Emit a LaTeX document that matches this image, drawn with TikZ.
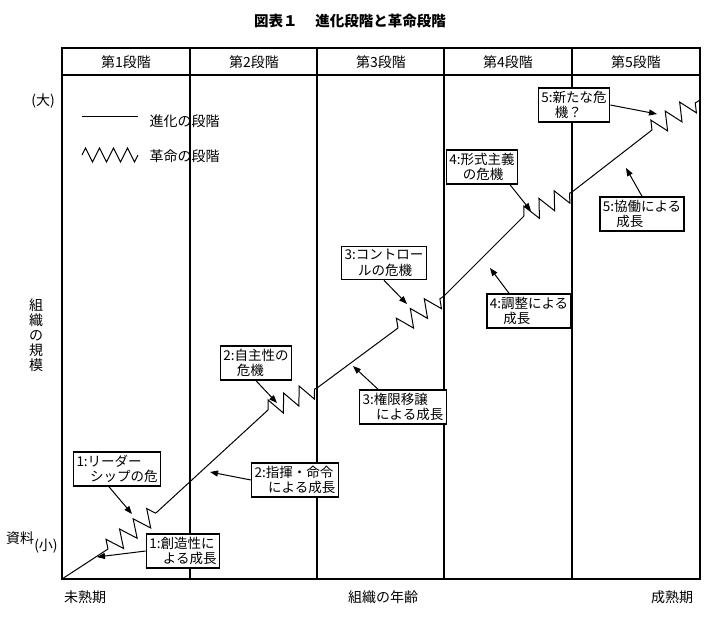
\documentclass[tikz,border=0pt]{standalone}
\usepackage{fontspec}
\setmainfont{Noto Sans CJK JP}
\usetikzlibrary{decorations.pathmorphing,arrows.meta}
\begin{document}
\begin{tikzpicture}[x=1pt,y=-1pt,
  frame/.style={line width=1.6pt},
  evo/.style={line width=1pt},
  zz/.style={line width=1pt,decorate,decoration={zigzag,segment length=17,amplitude=9}},
  box/.style={draw,line width=1.5pt,fill=white,align=left,font=\fontsize{13.5}{15.5}\selectfont,inner sep=3pt},
  arr/.style={line width=1pt,-{Triangle[length=8pt,width=6pt]}},
  lab/.style={font=\fontsize{14}{16}\selectfont}]
\useasboundingbox (0,0) rectangle (718,619);
\node[font=\bfseries\fontsize{14.5}{16}\selectfont] (title) at (350,21) {図表１　 進化段階と革命段階};
% frame
\draw[frame] (62,48) rectangle (700,579);
\draw[frame] (62,75) -- (700,75);
\foreach \x in {190,317,444,572} \draw[frame] (\x,48) -- (\x,579);
\foreach \i/\x in {1/126,2/254,3/381,4/508,5/636} \node[lab] (h\i) at (\x,62) {第\i 段階};
% legend
\coordinate (l1a) at (82,116); \coordinate (l1b) at (138,116);
\draw[evo] (l1a) -- (l1b);
\node[lab,anchor=west] (lt1) at (146,121) {進化の段階};
\coordinate (l2a) at (82,155); \coordinate (l2b) at (138,155);
\draw[zz,decoration={amplitude=7,segment length=14}] (l2a) -- (l2b);
\node[lab,anchor=west] (lt2) at (146,156) {革命の段階};
% growth path
\coordinate (o) at (62,579);
\coordinate (z1s) at (108,549); \coordinate (z1e) at (157,512);
\coordinate (z2s) at (268,410); \coordinate (z2e) at (317,388);
\coordinate (z3s) at (398,328); \coordinate (z3e) at (444,296);
\coordinate (z4s) at (524,216); \coordinate (z4e) at (572,192);
\coordinate (z5s) at (652,130); \coordinate (z5e) at (700,100);
\draw[evo] (o) -- (z1s) (z1e) -- (z2s) (z2e) -- (z3s) (z3e) -- (z4s) (z4e) -- (z5s);
\foreach \i in {1,...,5} \draw[zz] (z\i s) -- (z\i e);
% axis labels
\node[lab] (big) at (43,101) {(大)};
\node[lab,align=center] (size) at (36,335) {組\\[-1pt]織\\[-1pt]の\\[-1pt]規\\[-1pt]模};
\node[lab] (src) at (20,538) {資料};
\node[lab] (small) at (46,546) {(小)};
\node[lab] (young) at (85,597) {未熟期};
\node[lab] (age) at (383,597) {組織の年齢};
\node[lab] (mature) at (672,597) {成熟期};
% boxes
\node[box] (b1c) at (117,469) {1:リーダー\\\quad シップの危};
\node[box] (b1g) at (183,551) {1:創造性に\\\quad よる成長};
\node[box] (b2g) at (295,480) {2:指揮・命令\\\quad による成長};
\node[box] (b2c) at (256,363) {2:自主性の\\\quad 危機};
\node[box] (b3g) at (403,407) {3:権限移譲\\\quad による成長};
\node[box] (b3c) at (384,263) {3:コントロー\\\quad ルの危機};
\node[box] (b4g) at (529,311) {4:調整による\\\quad 成長};
\node[box] (b4c) at (482,167) {4:形式主義\\\quad の危機};
\node[box] (b5g) at (642,214) {5:協働による\\\quad 成長};
\node[box] (b5c) at (574,105) {5:新たな危\\\quad 機？};
% arrows
\coordinate (t1c) at (132,514); \coordinate (t1g) at (97,557);
\coordinate (t2g) at (210,472); \coordinate (t2c) at (277,403);
\coordinate (t3g) at (353,366); \coordinate (t3c) at (407,304);
\coordinate (t4g) at (490,268); \coordinate (t4c) at (531,211);
\coordinate (t5g) at (626,168); \coordinate (t5c) at (657,114);
\draw[arr] (b1c.south) ++(-8,0) -- (t1c);
\draw[arr] (b1g.west) -- (t1g);
\draw[arr] (b2g.west) -- (t2g);
\draw[arr] (b2c.south) -- (t2c);
\draw[arr] (b3g.north) ++(-25,0) -- (t3g);
\draw[arr] (b3c.south) -- (t3c);
\draw[arr] (b4g.north) ++(-20,0) -- (t4g);
\draw[arr] (b4c.south) ++(28,0) -- (t4c);
\draw[arr] (b5g.north) -- (t5g);
\draw[arr] (b5c.east) -- (t5c);
\end{tikzpicture}
\end{document}
